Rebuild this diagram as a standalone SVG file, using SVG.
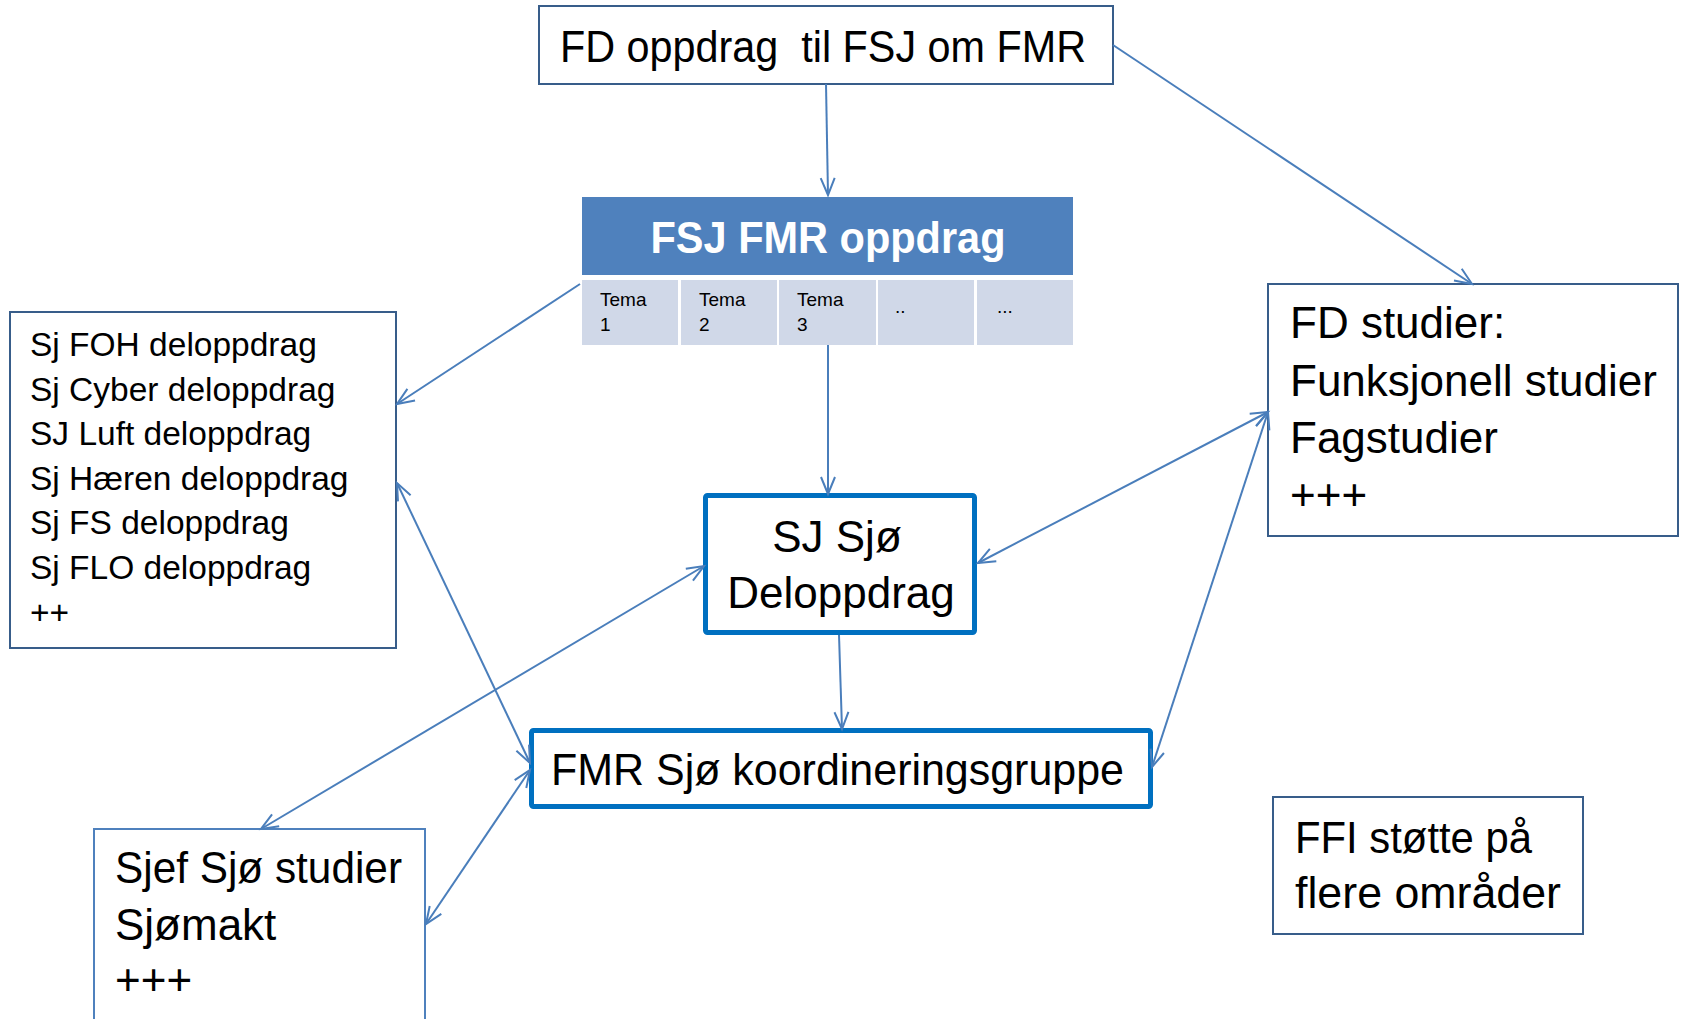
<svg xmlns="http://www.w3.org/2000/svg" width="1681" height="1019" viewBox="0 0 1681 1019">
<style>
  .box{fill:#fff;stroke:#385D8A;stroke-width:2}
  .thick{fill:#fff;stroke:#0070C0;stroke-width:5}
  .lt{fill:#fff;stroke:#4F81BD;stroke-width:2}
  .t{font-family:"Liberation Sans",Arial,sans-serif;font-size:44px;fill:#000}
  .tl{font-family:"Liberation Sans",Arial,sans-serif;font-size:33.5px;fill:#000}
  .ts{font-family:"Liberation Sans",Arial,sans-serif;font-size:19px;fill:#000}
  .hd{font-family:"Liberation Sans",Arial,sans-serif;font-size:45px;font-weight:bold;fill:#fff}
  .cell{fill:#D0D8E8}
  .c{fill:none;stroke:#4A7EBB;stroke-width:2}
</style>
<defs>
  <marker id="ah" viewBox="-1 -9 20 18" refX="17" refY="0" markerWidth="20" markerHeight="18" markerUnits="userSpaceOnUse" orient="auto-start-reverse" overflow="visible">
    <path d="M0,-7 L17,0 L0,7" fill="none" stroke="#4A7EBB" stroke-width="2"/>
  </marker>
</defs>
<rect width="1681" height="1019" fill="#fff"/>

<g id="fd-oppdrag">
  <rect class="box" x="539" y="6" width="574" height="78"/>
  <text class="t" x="560" y="62" textLength="526" lengthAdjust="spacingAndGlyphs" xml:space="preserve">FD oppdrag  til FSJ om FMR</text>
</g>

<g id="fsj-fmr-oppdrag">
  <rect x="582" y="197" width="491" height="78" fill="#4F81BD"/>
  <text class="hd" x="828" y="253" text-anchor="middle" textLength="355" lengthAdjust="spacingAndGlyphs">FSJ FMR oppdrag</text>
  <rect class="cell" x="582" y="280" width="96" height="65"/>
  <rect class="cell" x="681" y="280" width="96" height="65"/>
  <rect class="cell" x="779" y="280" width="97" height="65"/>
  <rect class="cell" x="878" y="280" width="96" height="65"/>
  <rect class="cell" x="977" y="280" width="96" height="65"/>
  <text class="ts" x="600" y="306">Tema</text><text class="ts" x="600" y="331">1</text>
  <text class="ts" x="699" y="306">Tema</text><text class="ts" x="699" y="331">2</text>
  <text class="ts" x="797" y="306">Tema</text><text class="ts" x="797" y="331">3</text>
  <text class="ts" x="895" y="313">..</text>
  <text class="ts" x="997" y="313">...</text>
</g>

<g id="sj-deloppdrag">
  <rect class="box" x="10" y="312" width="386" height="336"/>
  <text class="tl" x="30" y="356">Sj FOH deloppdrag</text>
  <text class="tl" x="30" y="400.6">Sj Cyber deloppdrag</text>
  <text class="tl" x="30" y="445.2">SJ Luft deloppdrag</text>
  <text class="tl" x="30" y="489.8">Sj Hæren deloppdrag</text>
  <text class="tl" x="30" y="534.4">Sj FS deloppdrag</text>
  <text class="tl" x="30" y="579">Sj FLO deloppdrag</text>
  <text class="tl" x="30" y="623.6">++</text>
</g>

<g id="fd-studier">
  <rect class="box" x="1268" y="284" width="410" height="252"/>
  <text class="t" x="1290" y="338">FD studier:</text>
  <text class="t" x="1290" y="396">Funksjonell studier</text>
  <text class="t" x="1290" y="453">Fagstudier</text>
  <text class="t" x="1290" y="510">+++</text>
</g>

<g id="sj-sjo">
  <rect class="thick" x="705.5" y="495.5" width="269" height="137" rx="2"/>
  <text class="t" x="837" y="552" text-anchor="middle">SJ Sjø</text>
  <text class="t" x="841" y="608" text-anchor="middle">Deloppdrag</text>
</g>

<g id="fmr-sjo">
  <rect class="thick" x="531.5" y="730.5" width="619" height="76" rx="2"/>
  <text class="t" x="551" y="785" textLength="573" lengthAdjust="spacingAndGlyphs">FMR Sjø koordineringsgruppe</text>
</g>

<g id="sjef-sjo">
  <rect class="lt" x="94" y="829" width="331" height="200"/>
  <text class="t" x="115" y="883" textLength="287" lengthAdjust="spacingAndGlyphs">Sjef Sjø studier</text>
  <text class="t" x="115" y="940">Sjømakt</text>
  <text class="t" x="115" y="995">+++</text>
</g>

<g id="ffi">
  <rect class="box" x="1273" y="797" width="310" height="137"/>
  <text class="t" x="1295" y="853" textLength="237" lengthAdjust="spacingAndGlyphs">FFI støtte på</text>
  <text class="t" x="1295" y="908" textLength="266" lengthAdjust="spacingAndGlyphs">flere områder</text>
</g>

<g id="connectors">
  <line class="c" x1="826" y1="84" x2="828" y2="195" marker-end="url(#ah)"/>
  <line class="c" x1="1113" y1="45" x2="1472" y2="284" marker-end="url(#ah)"/>
  <line class="c" x1="580" y1="284" x2="397" y2="404" marker-end="url(#ah)"/>
  <line class="c" x1="828" y1="345" x2="828" y2="494" marker-end="url(#ah)"/>
  <line class="c" x1="839" y1="635" x2="842" y2="729" marker-end="url(#ah)"/>
  <line class="c" x1="978" y1="563" x2="1268" y2="412" marker-start="url(#ah)" marker-end="url(#ah)"/>
  <line class="c" x1="1268" y1="412" x2="1152" y2="767" marker-start="url(#ah)" marker-end="url(#ah)"/>
  <line class="c" x1="397" y1="483" x2="530" y2="763" marker-start="url(#ah)" marker-end="url(#ah)"/>
  <line class="c" x1="704" y1="566" x2="261" y2="829" marker-start="url(#ah)" marker-end="url(#ah)"/>
  <line class="c" x1="530" y1="770" x2="426" y2="924" marker-start="url(#ah)" marker-end="url(#ah)"/>
</g>
</svg>
